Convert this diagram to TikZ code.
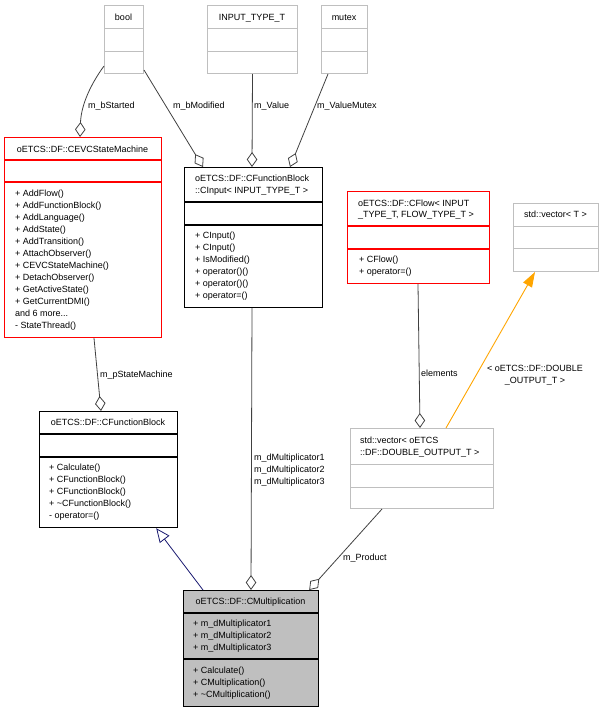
\documentclass[tikz,border=0pt]{standalone}
\usepackage{fontspec}
\setmainfont{Liberation Sans}
\usetikzlibrary{arrows.meta}
\definecolor{edgegray}{HTML}{404040}
\definecolor{boxgray}{HTML}{BFBFBF}
\definecolor{tmplorange}{HTML}{FFA500}
\definecolor{inhnavy}{HTML}{191970}
\begin{document}
\begin{tikzpicture}[x=1pt,y=1pt,font=\fontsize{9}{12}\selectfont,
	cls/.style={draw,rectangle,inner sep=0,anchor=north west,line width=1.2pt},
	grayclass/.style={cls,draw=boxgray,line width=1pt},
	redclass/.style={cls,draw=red},
	blackclass/.style={cls,draw=black},
	txt/.style={inner sep=0,anchor=base west},
	ttl/.style={inner sep=0,anchor=base},
	agg/.style={edgegray,line width=0.8pt,-{Diamond[open,length=15pt,width=10.5pt]}},
	tmpl/.style={tmplorange,line width=0.9pt,-{Triangle[length=15pt,width=10pt]}},
	inh/.style={inhnavy,line width=0.8pt,-{Triangle[open,length=14pt,width=12pt]}}]
		\useasboundingbox (0,0) rectangle (604,-712);
		% classes
		\node[grayclass,minimum width=39pt,minimum height=68pt] (bool) at (104,-5) {};
		\node[grayclass,minimum width=90pt,minimum height=68pt] (inptype) at (207,-5) {};
		\node[grayclass,minimum width=46pt,minimum height=68pt] (mutex) at (321,-5) {};
		\node[redclass,minimum width=157pt,minimum height=200pt] (sm) at (4,-137) {};
		\node[blackclass,minimum width=138pt,minimum height=140pt] (cinput) at (184,-167) {};
		\node[redclass,minimum width=142pt,minimum height=92pt] (cflow) at (347,-191) {};
		\node[grayclass,minimum width=85pt,minimum height=68pt] (vect) at (513,-203) {};
		\node[grayclass,minimum width=143pt,minimum height=80pt] (vdbl) at (350,-428) {};
		\node[blackclass,minimum width=138pt,minimum height=116pt] (fb) at (39,-411) {};
		\node[blackclass,fill=boxgray,minimum width=135pt,minimum height=116pt] (cmul) at (183,-590) {};
		\foreach \n/\a/\b/\c/\w in {bool/23/46/boxgray/1,inptype/23/46/boxgray/1,mutex/23/46/boxgray/1,sm/23/45/red/1.2,cinput/35/58/black/1.2,cflow/35/58/red/1.2,vect/23/45/boxgray/1,vdbl/36/59/boxgray/1,fb/23/46/black/1.2,cmul/23/69/black/1.2}
			\draw[\c,line width=\w pt] ([yshift=-\a pt]\n.north west) -- ([yshift=-\a pt]\n.north east) ([yshift=-\b pt]\n.north west) -- ([yshift=-\b pt]\n.north east);
		% titles
		\node[ttl] (boolt) at (123.5,-20) {bool};
		\node[ttl] (inptypet) at (252,-20) {INPUT\_TYPE\_T};
		\node[ttl] (mutext) at (344,-20) {mutex};
		\node[ttl] (smt) at (82.5,-152) {oETCS::DF::CEVCStateMachine};
		\node[txt] (cinputt1) at (195,-181) {oETCS::DF::CFunctionBlock};
		\node[txt] (cinputt2) at (195,-193) {::CInput< INPUT\_TYPE\_T >};
		\node[txt] (cflowt1) at (358,-206) {oETCS::DF::CFlow< INPUT};
		\node[txt] (cflowt2) at (358,-217) {\_TYPE\_T, FLOW\_TYPE\_T >};
		\node[ttl] (vectt) at (555.5,-217) {std::vector< T >};
		\node[txt] (vdblt1) at (360,-443) {std::vector< oETCS};
		\node[txt] (vdblt2) at (360,-455) {::DF::DOUBLE\_OUTPUT\_T >};
		\node[ttl] (fbt) at (108,-425) {oETCS::DF::CFunctionBlock};
		\node[ttl] (cmult) at (250.5,-604) {oETCS::DF::CMultiplication};
		% members
		\foreach \t [count=\i] in {+ AddFlow(),+ AddFunctionBlock(),+ AddLanguage(),+ AddState(),+ AddTransition(),+ AttachObserver(),+ CEVCStateMachine(),+ DetachObserver(),+ GetActiveState(),+ GetCurrentDMI(),and 6 more{...},- StateThread()}
			\node[txt] (sm\i) at (15,-184-12*\i) {\t};
		\foreach \t [count=\i] in {+ CInput(),+ CInput(),+ IsModified(),+ operator()(),+ operator()(),+ operator=()}
			\node[txt] (cinput\i) at (195,-226-12*\i) {\t};
		\foreach \t [count=\i] in {+ CFlow(),+ operator=()}
			\node[txt] (cflow\i) at (359,-250-12*\i) {\t};
		\foreach \t [count=\i] in {+ Calculate(),+ CFunctionBlock(),+ CFunctionBlock(),+ \textasciitilde CFunctionBlock(),- operator=()}
			\node[txt] (fb\i) at (49,-458-12*\i) {\t};
		\foreach \i in {1,2,3}
			\node[txt] (cmula\i) at (193,-614-12*\i) {+ m\_dMultiplicator\i};
		\foreach \t [count=\i] in {+ Calculate(),+ CMultiplication(),+ \textasciitilde CMultiplication()}
			\node[txt] (cmulm\i) at (193,-661-12*\i) {\t};
		% connectors
		\draw[agg] ([yshift=8pt]bool.south west) .. controls (88,-88) and (81,-108) .. ([xshift=76pt]sm.north west);
		\draw[agg] ([yshift=4pt]bool.south east) -- ([xshift=19pt]cinput.north west);
		\draw[agg] (inptype.south) -- ([xshift=68pt]cinput.north west);
		\draw[agg] ([xshift=7pt]mutex.south west) -- ([xshift=106pt]cinput.north west);
		\draw[agg] ([xshift=90pt]sm.south west) -- ([xshift=62pt]fb.north west);
		\draw[agg] ([xshift=68pt]cinput.south west) -- ([xshift=68pt]cmul.north west);
		\draw[agg] ([xshift=32pt]vdbl.south west) -- ([xshift=-10pt]cmul.north east);
		\draw[agg] ([xshift=71pt]cflow.south west) -- ([xshift=70pt]vdbl.north west);
		\draw[tmpl] ([xshift=96pt]vdbl.north west) -- ([xshift=22pt]vect.south west);
		\draw[inh] ([xshift=20pt]cmul.north west) -- ([xshift=-22pt]fb.south east);
		% connector labels
		\node[txt] (lstarted) at (88,-108) {m\_bStarted};
		\node[txt] (lmodified) at (173,-108) {m\_bModified};
		\node[txt] (lvalue) at (254,-108) {m\_Value};
		\node[txt] (lmutex) at (317,-108) {m\_ValueMutex};
		\node[txt] (lsm) at (100,-377) {m\_pStateMachine};
		\foreach \i in {1,2,3}
			\node[txt] (lmult\i) at (254,-448-12*\i) {m\_dMultiplicator\i};
		\node[txt] (lproduct) at (343,-560) {m\_Product};
		\node[txt] (lelements) at (421,-376) {elements};
		\node[ttl] (ltmpl1) at (535,-371) {< oETCS::DF::DOUBLE};
		\node[ttl] (ltmpl2) at (535,-383) {\_OUTPUT\_T >};
\end{tikzpicture}
\end{document}
